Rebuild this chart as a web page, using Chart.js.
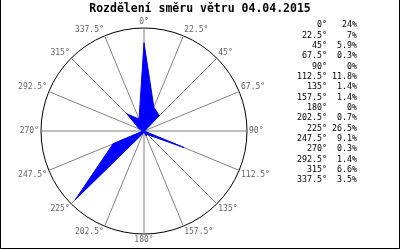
<!DOCTYPE html>
<html>
<head>
<meta charset="utf-8">
<script src="https://cdn.jsdelivr.net/npm/chart.js@4/dist/chart.umd.min.js"></script>
<style>
  html, body { margin: 0; padding: 0; background: #fff; }
  canvas { display: block; }
</style>
</head>
<body>
<canvas id="windChart" width="400" height="250"></canvas>
<script>
// wind direction (degrees) and share of time (%)
const directions = [0, 22.5, 45, 67.5, 90, 112.5, 135, 157.5, 180, 202.5, 225, 247.5, 270, 292.5, 315, 337.5];
const shares = [24, 7, 5.9, 0.3, 0, 11.8, 1.4, 1.4, 0, 0.7, 26.5, 9.1, 0.3, 1.4, 6.6, 3.5];
const directionLabels = directions.map(d => d + '°');
const titleText = 'Rozdělení směru větru 04.04.2015';
const scaleMax = 28;

const monoFont = "'DejaVu Sans Mono', 'Liberation Mono', monospace";

// frame, title over the whole image, and table of values on the right
const sidePanel = {
    id: 'sidePanel',
    afterDraw(chart) {
        const ctx = chart.ctx;
        ctx.save();
        ctx.strokeStyle = '#000';
        ctx.lineWidth = 1;
        ctx.beginPath();
        ctx.moveTo(0.5, 0);
        ctx.lineTo(0.5, 248.5);
        ctx.lineTo(399.5, 248.5);
        ctx.lineTo(399.5, 0);
        ctx.stroke();

        ctx.fillStyle = '#000';
        ctx.textBaseline = 'middle';
        ctx.textAlign = 'center';
        ctx.font = 'bold 11.5px ' + monoFont;
        ctx.fillText(titleText, 200, 9.5);

        ctx.font = '8.3px ' + monoFont;
        ctx.textAlign = 'right';
        directions.forEach((d, i) => {
            const y = 25 + i * 10.35;
            ctx.fillText(directionLabels[i], 327, y);
            ctx.fillText(shares[i] + '%', 357, y);
        });
        ctx.restore();
    }
};

new Chart(document.getElementById('windChart'), {
    type: 'radar',
    data: {
        labels: directionLabels,
        datasets: [{
            data: shares,
            backgroundColor: '#0000ff',
            borderColor: '#0000ff',
            borderWidth: 1,
            pointRadius: 0,
            fill: true,
            tension: 0
        }]
    },
    options: {
        responsive: false,
        animation: false,
        layout: {
            padding: { top: 18, right: 112, bottom: 6, left: 0 }
        },
        plugins: {
            legend: { display: false },
            tooltip: { enabled: false },
            title: { display: false }
        },
        scales: {
            r: {
                min: 0,
                max: scaleMax,
                ticks: { display: false, stepSize: scaleMax },
                grid: { circular: true, color: '#000', lineWidth: 1 },
                angleLines: { color: '#808080', lineWidth: 1 },
                pointLabels: {
                    color: '#666',
                    padding: 2,
                    font: { family: monoFont, size: 8, lineHeight: 1 }
                }
            }
        }
    },
    plugins: [sidePanel]
});
</script>
</body>
</html>
